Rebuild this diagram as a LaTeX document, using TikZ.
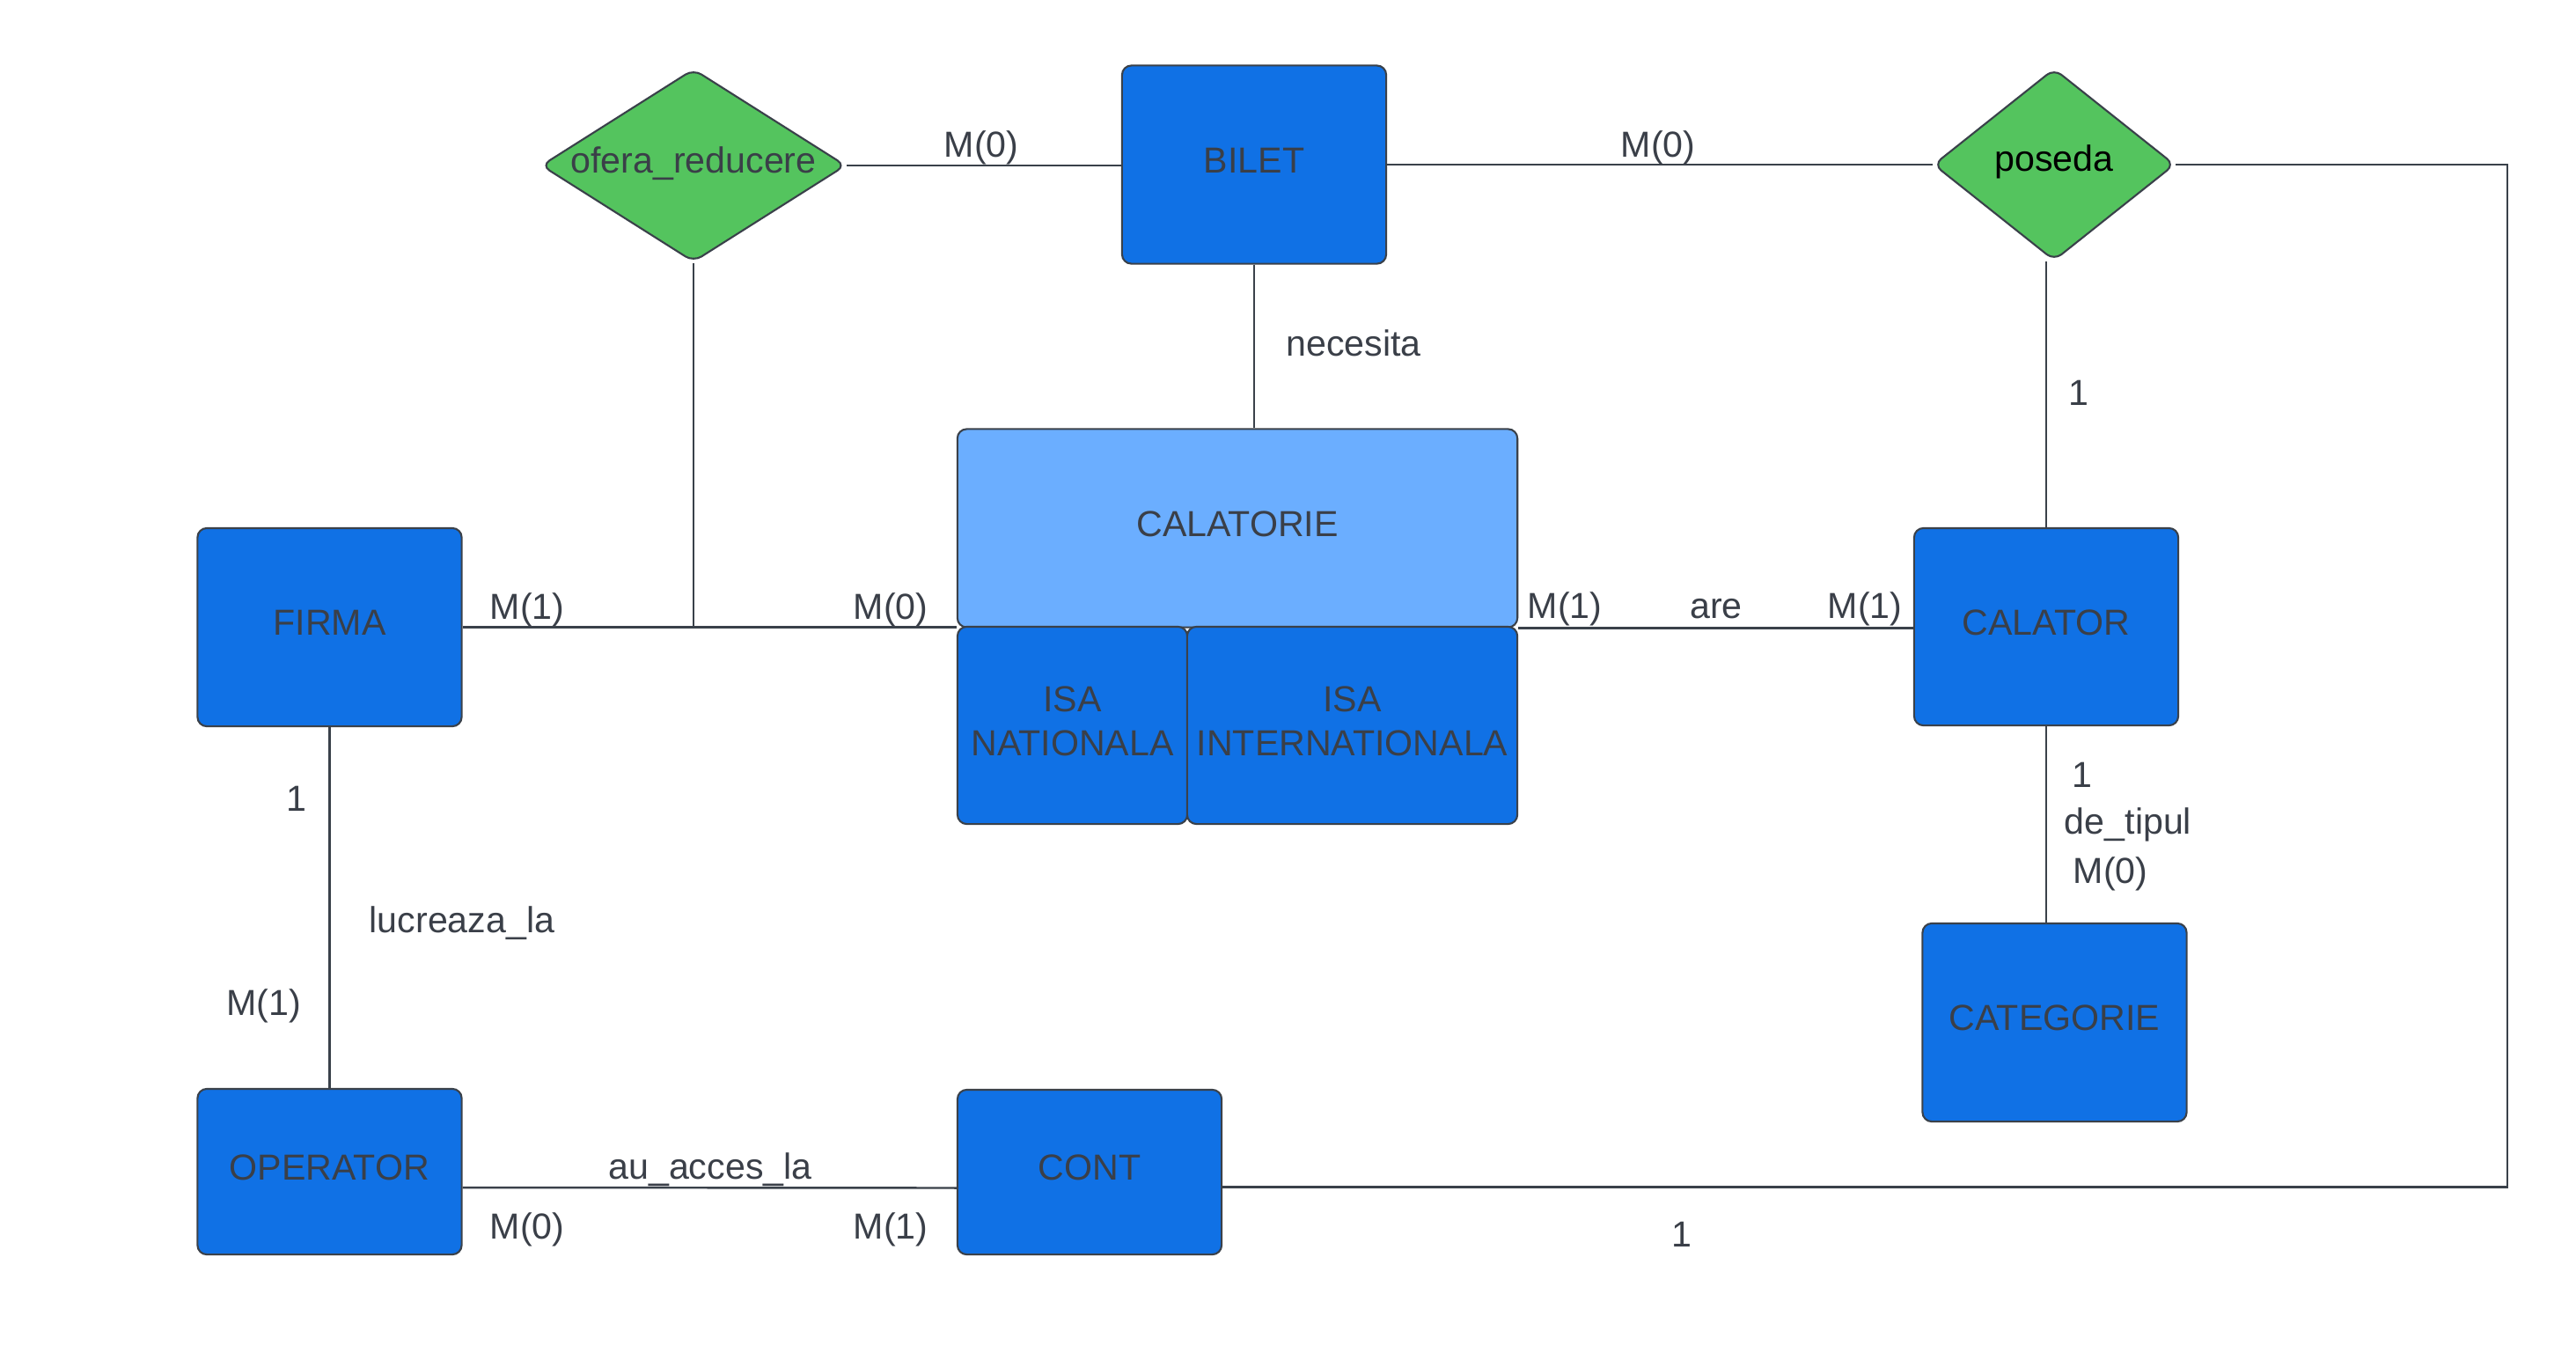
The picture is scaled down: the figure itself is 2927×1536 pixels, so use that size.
\documentclass[tikz,border=0pt]{standalone}
\usepackage{fontspec}
\setmainfont{Liberation Sans}
\usetikzlibrary{calc}
\usetikzlibrary{shapes.geometric}

\definecolor{entblue}{RGB}{16,113,229}
\definecolor{isablue}{RGB}{107,174,255}
\definecolor{relgreen}{RGB}{84,196,94}
\definecolor{edgegray}{RGB}{58,65,74}
\definecolor{txtgray}{RGB}{58,63,72}

\begin{document}
\begin{tikzpicture}[x=0.01cm,y=-0.01cm,
    entity/.style={draw=edgegray,line width=0.6pt,fill=entblue,rounded corners=3pt,inner sep=0pt,
        text depth=0.1cm,text=txtgray,align=center,font=\fontsize{11.7}{14.2}\selectfont},
    relation/.style={diamond,draw=edgegray,line width=0.6pt,fill=relgreen,rounded corners=3pt,inner sep=0pt},
    card/.style={text=txtgray,font=\fontsize{11.7}{14.2}\selectfont},
    link/.style={draw=edgegray,line width=0.7pt}]
    \useasboundingbox (0,0) rectangle (2927,1536);

    \node[entity,minimum width=3cm,minimum height=2.25cm] (bilet) at (1425,187) {BILET};
    \node[relation,minimum width=3.46cm,minimum height=2.19cm,label={[card,yshift=0.02cm]center:ofera\_reducere}] (ofera) at (788,188) {};
    \node[relation,minimum width=2.74cm,minimum height=2.18cm,label={[card,text=black,yshift=0.03cm]center:poseda}] (poseda) at (2334,187) {};
    \node[entity,fill=isablue,minimum width=6.36cm,minimum height=2.25cm] (calatorie) at (1406,600) {CALATORIE};
    \node[entity,minimum width=2.61cm,minimum height=2.24cm] (isanat) at (1218.5,824) {ISA\\NATIONALA};
    \node[entity,minimum width=3.75cm,minimum height=2.24cm] (isaint) at (1536.5,824) {ISA\\INTERNATIONALA};
    \node[entity,minimum width=3cm,minimum height=2.25cm] (firma) at (374.5,712.5) {FIRMA};
    \node[entity,minimum width=3cm,minimum height=2.24cm] (calator) at (2325,712) {CALATOR};
    \node[entity,minimum width=3cm,minimum height=2.25cm] (categorie) at (2334.5,1161.5) {CATEGORIE};
    \node[entity,minimum width=3cm,minimum height=1.88cm] (operator) at (374.5,1331) {OPERATOR};
    \node[entity,minimum width=3cm,minimum height=1.87cm] (cont) at (1238,1331.5) {CONT};

    \draw[link] (ofera.east) -- (ofera.east -| bilet.west);
    \draw[link] (bilet.east) -- (bilet.east -| poseda.west);
    \draw[link] (bilet.south) -- (bilet.south |- calatorie.north);
    \draw[link] (firma.east) -- (firma.east -| calatorie.west);
    \coordinate (oferajoin) at (ofera.south |- firma.east);
    \draw[link] (ofera.south) -- (oferajoin);
    \draw[link] (calatorie.south east) -- (calatorie.south east -| calator.west);
    \draw[link] (calator.north) -- (calator.north |- poseda.south);
    \draw[link] (calator.south) -- (calator.south |- categorie.north);
    \draw[link] (firma.south) -- (operator.north);
    \draw[link] ($(operator.east)+(0,18)$) -- ($(cont.west)+(0,18)$);
    \coordinate (contright) at ($(cont.east)+(0,17)$);
    \coordinate (posedacorner) at (2849,187);
    \draw[link] (poseda.east) -- (posedacorner) |- (contright);

    \node[card] (cardob) at (1115,168) {M(0)};
    \node[card] (cardbp) at (1884,168) {M(0)};
    \node[card] (necesita) at (1538,390) {necesita};
    \node[card] (cardpc) at (2362,446) {1};
    \node[card] (cardfa) at (599,693) {M(1)};
    \node[card] (cardfb) at (1012,693) {M(0)};
    \node[card] (cardca) at (1778,692) {M(1)};
    \node[card] (are) at (1950,692) {are};
    \node[card] (cardcb) at (2119,692) {M(1)};
    \node[card] (cardfo) at (337,907) {1};
    \node[card] (lucreaza) at (525,1049) {lucreaza\_la};
    \node[card] (cardof) at (300,1143) {M(1)};
    \node[card] (cardct) at (2366,880) {1};
    \node[card] (detipul) at (2418,937) {de\_tipul};
    \node[card] (cardtc) at (2398,993) {M(0)};
    \node[card] (auacces) at (807,1329) {au\_acces\_la};
    \node[card] (cardoc) at (599,1397) {M(0)};
    \node[card] (cardco) at (1012,1397) {M(1)};
    \node[card] (cardpo) at (1911,1402) {1};
\end{tikzpicture}
\end{document}
